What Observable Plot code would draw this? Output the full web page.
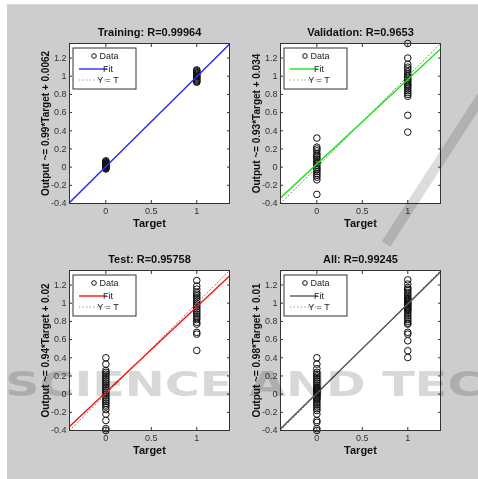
<!DOCTYPE html>
<html><head><meta charset="utf-8">
<script src="https://cdn.jsdelivr.net/npm/d3@7"></script>
<script src="https://cdn.jsdelivr.net/npm/@observablehq/plot@0.6"></script>
<style>
html,body{margin:0;padding:0;background:#fff;}
#wrap{position:relative;width:478px;height:479px;overflow:hidden;background:#fff;font-family:"Liberation Sans",Arial,sans-serif;}
#bg{position:absolute;left:7px;top:4px;width:471px;height:475px;background:#cdcdcd;border-top:1px solid #d3d7e3;}
.panel{position:absolute;}
#wm{position:absolute;left:0;top:0;mix-blend-mode:multiply;pointer-events:none;}
</style></head><body>
<div id="wrap"><div id="bg"></div></div>
<script>
// ---- data ----
const panelTitles = ["Training: R=0.99964", "Validation: R=0.9653", "Test: R=0.95758", "All: R=0.99245"];
const yLabels = ["Output ~= 0.99*Target + 0.0062", "Output ~= 0.93*Target + 0.034", "Output ~= 0.94*Target + 0.02", "Output ~= 0.98*Target + 0.01"];
const xLabel = "Target";
const fitColors = ["#2a2aff", "#1ee61e", "#ff1010", "#555555"];
const fitSlope = [0.99, 0.93, 0.94, 0.98];
const fitIntercept = [0.0062, 0.034, 0.02, 0.01];
const xTicks = [0, 0.5, 1];
const xTickLabels = ["0", "0.5", "1"];
const yTicks = [-0.4, -0.2, 0, 0.2, 0.4, 0.6, 0.8, 1, 1.2];
const yTickLabels = ["-0.4", "-0.2", "0", "0.2", "0.4", "0.6", "0.8", "1", "1.2"];
const axisDomain = [-0.4, 1.36];
const legendLabels = ["Data", "Fit", "Y = T"];

// outputs at Target = 0 and Target = 1
const trainT0 = [0.07, 0.06, 0.05, 0.045, 0.04, 0.035, 0.03, 0.025, 0.02, 0.015, 0.01, 0.005, 0, -0.005, -0.01, -0.015, -0.02];
const trainT1 = [1.07, 1.06, 1.05, 1.04, 1.03, 1.02, 1.01, 1.0, 0.99, 0.98, 0.97, 0.96, 0.95, 0.94, 0.935];
const valT0 = [0.32, 0.22, 0.2, 0.18, 0.15, 0.13, 0.11, 0.09, 0.07, 0.05, 0.04, 0.02, 0.0, -0.02, -0.03, -0.05, -0.07, -0.09, -0.11, -0.14, -0.3];
const valT1 = [1.36, 1.2, 1.13, 1.1, 1.08, 1.05, 1.03, 1.01, 1.0, 0.98, 0.96, 0.95, 0.93, 0.91, 0.9, 0.88, 0.86, 0.84, 0.82, 0.8, 0.78, 0.57, 0.385];
const testT0 = [0.4, 0.33, 0.26, 0.24, 0.22, 0.2, 0.18, 0.16, 0.14, 0.12, 0.1, 0.08, 0.06, 0.04, 0.02, 0.0, -0.02, -0.04, -0.06, -0.08, -0.1, -0.12, -0.14, -0.17, -0.22, -0.29, -0.38, -0.4];
const testT1 = [1.25, 1.19, 1.155, 1.12, 1.1, 1.08, 1.06, 1.04, 1.02, 1.0, 0.98, 0.96, 0.94, 0.92, 0.9, 0.88, 0.86, 0.84, 0.82, 0.79, 0.77, 0.68, 0.66, 0.48];
const allT0 = [0.4, 0.33, 0.28, 0.24, 0.22, 0.2, 0.18, 0.16, 0.14, 0.12, 0.1, 0.08, 0.07, 0.06, 0.05, 0.04, 0.03, 0.02, 0.01, 0.0, -0.01, -0.02, -0.03, -0.04, -0.05, -0.06, -0.08, -0.1, -0.12, -0.14, -0.16, -0.18, -0.22, -0.29, -0.31, -0.38, -0.4];
const allT1 = [1.257, 1.21, 1.173, 1.155, 1.14, 1.12, 1.1, 1.08, 1.06, 1.05, 1.04, 1.03, 1.02, 1.01, 1.0, 0.99, 0.98, 0.97, 0.96, 0.95, 0.94, 0.93, 0.92, 0.9, 0.88, 0.86, 0.84, 0.82, 0.8, 0.78, 0.77, 0.68, 0.66, 0.587, 0.477, 0.403];

const panelT0 = [trainT0, valT0, testT0, allT0];
const panelT1 = [trainT1, valT1, testT1, allT1];

// ---- layout ----
const panelPos = [[0, 0], [211, 0], [0, 227], [211, 227]];
const W = 239, H = 237, ML = 69, MT = 43, MR = 10, MB = 34;
const font = '"Liberation Sans", Arial, Helvetica, sans-serif';

const wrap = document.getElementById("wrap");

panelTitles.forEach((title, i) => {
  const pts = panelT0[i].map(v => ({target: 0, output: v}))
    .concat(panelT1[i].map(v => ({target: 1, output: v})));
  const fitLine = axisDomain.map(x => ({x, y: fitSlope[i] * x + fitIntercept[i]}));
  const idLine = axisDomain.map(x => ({x, y: x}));

  const chart = Plot.plot({
    width: W, height: H,
    marginLeft: ML, marginTop: MT, marginRight: MR, marginBottom: MB,
    style: {background: "transparent", fontFamily: font, fontSize: "9px", overflow: "visible", color: "#222"},
    x: {domain: axisDomain, label: null},
    y: {domain: axisDomain, label: null},
    marks: [
      Plot.frame({fill: "white", stroke: "none"}),
      Plot.dot(pts, {x: "target", y: "output", r: 3.3, stroke: "#111", strokeWidth: 1, fill: "none"}),
      Plot.line(idLine, {x: "x", y: "y", stroke: "#8a8a8a", strokeWidth: 1, strokeDasharray: "1.2,2.4"}),
      Plot.line(fitLine, {x: "x", y: "y", stroke: fitColors[i], strokeWidth: 1.4}),
      Plot.axisX({anchor: "bottom", ticks: xTicks, tickSize: 3, dy: -3, fill: "none", stroke: "#333", label: null}),
      Plot.axisX({anchor: "top", ticks: xTicks, tickSize: 3, dy: 3, fill: "none", stroke: "#333", label: null}),
      Plot.axisY({anchor: "left", ticks: yTicks, tickSize: 3, dx: 3, fill: "none", stroke: "#333", label: null}),
      Plot.axisY({anchor: "right", ticks: yTicks, tickSize: 3, dx: -3, fill: "none", stroke: "#333", label: null}),
      Plot.axisX({anchor: "bottom", ticks: xTicks, tickSize: 0, tickPadding: 4, fill: "#333", fontSize: 9,
        tickFormat: d => xTickLabels[xTicks.indexOf(d)], label: null}),
      Plot.axisY({anchor: "left", ticks: yTicks, tickSize: 0, tickPadding: 3, fill: "#333", fontSize: 9,
        tickFormat: d => yTickLabels[yTicks.findIndex(t => Math.abs(t - d) < 1e-9)], label: null}),
      Plot.frame({stroke: "#333", strokeWidth: 1}),
      Plot.text([title], {text: d => d, frameAnchor: "top", textAnchor: "middle", lineAnchor: "middle",
        dy: -11.5, fontWeight: "bold", fontSize: 11, fill: "#111"}),
      Plot.text([xLabel], {text: d => d, frameAnchor: "bottom", textAnchor: "middle", lineAnchor: "middle",
        dy: 20, fontWeight: "bold", fontSize: 11, fill: "#111"}),
      Plot.text([yLabels[i]], {text: d => d, frameAnchor: "left", textAnchor: "middle", lineAnchor: "middle",
        dx: -24, rotate: -90, fontWeight: "bold", fontSize: 10, fill: "#111"})
    ]
  });

  // legend box (MATLAB style) in the top-left corner of the axes
  const svg = d3.select(chart);
  const g = svg.append("g").attr("font-family", font).attr("font-size", 9).attr("fill", "#222");
  g.append("rect").attr("x", ML + 4).attr("y", MT + 5).attr("width", 63).attr("height", 41)
    .attr("fill", "white").attr("stroke", "#333").attr("stroke-width", 1);
  g.append("circle").attr("cx", ML + 25).attr("cy", MT + 13).attr("r", 2.3)
    .attr("fill", "none").attr("stroke", "#111");
  g.append("line").attr("x1", ML + 10).attr("x2", ML + 38).attr("y1", MT + 26).attr("y2", MT + 26)
    .attr("stroke", fitColors[i]).attr("stroke-width", 1.4);
  g.append("line").attr("x1", ML + 10).attr("x2", ML + 38).attr("y1", MT + 37).attr("y2", MT + 37)
    .attr("stroke", "#8a8a8a").attr("stroke-dasharray", "1.2,2.4");
  [[MT + 13, ML + 40], [MT + 26, ML + 39], [MT + 37, ML + 39]].forEach(([y, x], k) => {
    g.append("text").attr("x", x).attr("y", y).attr("dy", "0.35em").text(legendLabels[k]);
  });

  const div = document.createElement("div");
  div.className = "panel";
  div.style.left = panelPos[i][0] + "px";
  div.style.top = panelPos[i][1] + "px";
  div.appendChild(chart);
  wrap.appendChild(div);
});

// faint publisher watermark over the figure
const wm = d3.select(wrap).append("svg").attr("id", "wm").attr("width", 478).attr("height", 479);
wm.append("text").attr("x", 5).attr("y", 396).attr("font-family", "DejaVu Sans").attr("font-weight", "bold")
  .attr("font-size", 34).attr("textLength", 740).attr("lengthAdjust", "spacingAndGlyphs")
  .attr("fill", "#d8d8d8").text("SCIENCE AND TECHNOLOGY");
wm.append("line").attr("x1", 482).attr("y1", 96).attr("x2", 386).attr("y2", 244)
  .attr("stroke", "#dcdcdc").attr("stroke-width", 10);
</script>
</body></html>
